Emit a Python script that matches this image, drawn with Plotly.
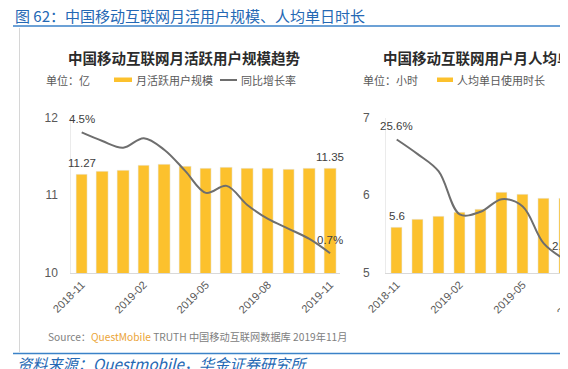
import plotly.graph_objects as go

# ---------------- data ----------------
months_mau = ["2018-11", "2018-12", "2019-01", "2019-02", "2019-03", "2019-04", "2019-05",
              "2019-06", "2019-07", "2019-08", "2019-09", "2019-10", "2019-11"]
mau = [11.27, 11.31, 11.32, 11.38, 11.39, 11.37, 11.34, 11.36, 11.34, 11.34, 11.33, 11.34, 11.35]
mau_growth = [4.50, 4.23, 4.02, 4.32, 3.95, 3.29, 2.60, 2.82, 2.22, 1.78, 1.47, 1.15, 0.70]

months_time = ["2018-11", "2018-12", "2019-01", "2019-02", "2019-03", "2019-04", "2019-05",
               "2019-06", "2019-07"]
daily_hours = [5.59, 5.69, 5.73, 5.78, 5.82, 6.04, 6.01, 5.96, 5.96]
hours_growth = [25.6, 22.8, 19.5, 11.3, 11.8, 14.2, 12.8, 5.75, 2.7]

tick_labels = ["2018-11", "2019-02", "2019-05", "2019-08", "2019-11"]

# the page body has an 8px margin: figure origin sits at screen (8, 8)
OFF = 8
W, H = 568 - OFF, 369 - OFF
def px(x):
    return (x - OFF) / W
def py(y):
    return 1 - (y - OFF) / H

BAR = "#FCC12D"
LINE = "#6E6E6E"
GRAY = "#595959"
BLUE = "#2468B4"
CJK = "Noto Sans CJK SC"
NUM = "Liberation Sans, Noto Sans CJK SC"

fig = go.Figure()
fig.add_trace(go.Bar(x=months_mau, y=mau, marker_color=BAR, width=0.56,
                     xaxis="x", yaxis="y", showlegend=False))
fig.add_trace(go.Scatter(x=months_mau, y=mau_growth, mode="lines",
                         line=dict(color=LINE, width=2, shape="spline", smoothing=1),
                         xaxis="x", yaxis="y2", showlegend=False))
fig.add_trace(go.Bar(x=months_time, y=daily_hours, marker_color=BAR, width=0.57,
                     xaxis="x2", yaxis="y3", showlegend=False))
fig.add_trace(go.Scatter(x=months_time, y=hours_growth, mode="lines",
                         line=dict(color=LINE, width=2, shape="spline", smoothing=1),
                         xaxis="x2", yaxis="y4", showlegend=False))

ydom = [py(273), py(117.5)]
left_dom = [px(71.35), px(340.45)]
right_dom = [px(386.2), 1.0]
right_range = [-0.5, 8.157]

xcommon = dict(type="category", showline=True, linecolor="#D9D9D9", linewidth=1,
               showgrid=False, zeroline=False, ticks="", tickangle=-45, automargin=False,
               tickfont=dict(family=NUM, size=11, color=GRAY),
               tickmode="array", tickvals=tick_labels, ticktext=tick_labels)
ycommon = dict(showline=True, linecolor="#EBEBEB", linewidth=1, showgrid=False,
               zeroline=False, ticks="", ticklabelstandoff=10, automargin=False,
               tickfont=dict(family=NUM, size=12, color=GRAY), domain=ydom)

fig.update_layout(
    width=W, height=H, autosize=False,
    margin=dict(l=0, r=0, t=0, b=0, pad=0, autoexpand=False),
    paper_bgcolor="white", plot_bgcolor="rgba(0,0,0,0)",
    bargap=0,
    xaxis=dict(xcommon, domain=left_dom, range=[-0.5, 12.5], anchor="y"),
    yaxis=dict(ycommon, range=[10, 12], tickvals=[10, 11, 12], anchor="x"),
    yaxis2=dict(range=[0.08, 4.97], overlaying="y", visible=False, domain=ydom, anchor="x"),
    xaxis2=dict(xcommon, domain=right_dom, range=right_range, anchor="y3"),
    yaxis3=dict(ycommon, range=[5, 7], tickvals=[5, 6, 7], anchor="x2",
                ticklabelstandoff=13),
    yaxis4=dict(range=[0.1, 29.8], overlaying="y3", visible=False, domain=ydom, anchor="x2"),
)

ann = []
lab_font = dict(family=NUM, size=11.5, color="#404040")
# value labels
ann.append(dict(x=months_mau[0], y=mau[0], xref="x", yref="y", text=f"{mau[0]:.2f}",
                showarrow=False, yshift=11, font=lab_font))
ann.append(dict(x=months_mau[-1], y=mau[-1], xref="x", yref="y", text=f"{mau[-1]:.2f}",
                showarrow=False, yshift=11, font=lab_font))
ann.append(dict(x=months_mau[0], y=mau_growth[0], xref="x", yref="y2",
                text=f"{mau_growth[0]:.1f}%", showarrow=False, yshift=13, font=lab_font))
ann.append(dict(x=months_mau[-1], y=mau_growth[-1], xref="x", yref="y2",
                text=f"{mau_growth[-1]:.1f}%", showarrow=False, yshift=13, font=lab_font))
ann.append(dict(x=months_time[0], y=daily_hours[0], xref="x2", yref="y3",
                text=f"{daily_hours[0]:.1f}", showarrow=False, yshift=11, font=lab_font))
ann.append(dict(x=months_time[0], y=hours_growth[0], xref="x2", yref="y4",
                text=f"{hours_growth[0]:.1f}%", showarrow=False, yshift=13, font=lab_font))
ann.append(dict(x=months_time[-1], y=hours_growth[-1], xref="x2", yref="y4",
                text=f"{hours_growth[-1]:.1f}%", showarrow=False, yshift=13, font=lab_font))

# partially visible tick label beyond right edge (index 9 = 2019-08)
r0, r1 = right_range
tick_px = 386.2 + (9 - r0) / (r1 - r0) * (568 - 386.2)
ann.append(dict(x=px(tick_px - 13), y=py(300), xref="paper", yref="paper",
                text=tick_labels[3], textangle=-45, showarrow=False,
                xanchor="center", yanchor="middle",
                font=dict(family=NUM, size=11, color=GRAY)))

# header
ann.append(dict(x=px(13), y=py(15), xref="paper", yref="paper",
                text="图 62：中国移动互联网月活用户规模、人均单日时长",
                showarrow=False, xanchor="left", yanchor="middle",
                font=dict(family=CJK, size=15, color=BLUE)))
# chart titles
ann.append(dict(x=px(66), y=py(57), xref="paper", yref="paper",
                text="中国移动互联网月活跃用户规模趋势", showarrow=False,
                xanchor="left", yanchor="middle",
                font=dict(family=CJK, size=14.5, color="#2B2B2B", weight=600)))
ann.append(dict(x=px(381), y=py(57), xref="paper", yref="paper",
                text="中国移动互联网用户月人均单日时长趋势", showarrow=False,
                xanchor="left", yanchor="middle",
                font=dict(family=CJK, size=14.5, color="#2B2B2B", weight=600)))
# legends
leg_font = dict(family=CJK, size=11, color=GRAY)
for x, t in [(44, "单位：亿"), (134, "月活跃用户规模"), (239, "同比增长率"),
             (361, "单位：小时"), (455, "人均单日使用时长")]:
    ann.append(dict(x=px(x), y=py(80), xref="paper", yref="paper", text=t,
                    showarrow=False, xanchor="left", yanchor="middle", font=leg_font))
# source
ann.append(dict(x=px(46), y=py(336), xref="paper", yref="paper",
                text=("<span style='color:#808080'>Source：</span>"
                      "<span style='color:#EBA436'>QuestMobile</span>"
                      "<span style='color:#808080'> TRUTH 中国移动互联网数据库 2019年11月</span>"),
                showarrow=False, xanchor="left", yanchor="middle",
                font=dict(family=CJK, size=10.2)))
# footer
ann.append(dict(x=px(15), y=py(363), xref="paper", yref="paper",
                text="资料来源：Questmobile，华金证券研究所",
                showarrow=False, xanchor="left", yanchor="middle",
                font=dict(family=CJK, size=15.2, color=BLUE, style="italic")))

shapes = [
    dict(type="line", xref="paper", yref="paper", x0=px(13), x1=1.0, y0=py(26), y1=py(26),
         line=dict(color="#3B82C8", width=1.5)),
    dict(type="line", xref="paper", yref="paper", x0=px(19.5), x1=px(19.5), y0=py(28), y1=py(352),
         line=dict(color="#D6D6D6", width=1)),
    dict(type="line", xref="paper", yref="paper", x0=px(13), x1=1.0, y0=py(353.5), y1=py(353.5),
         line=dict(color="#3B82C8", width=1.5)),
    dict(type="rect", xref="paper", yref="paper", x0=px(114), x1=px(132), y0=py(82), y1=py(77.5),
         fillcolor=BAR, line=dict(width=0)),
    dict(type="line", xref="paper", yref="paper", x0=px(220), x1=px(237), y0=py(80), y1=py(80),
         line=dict(color=LINE, width=2)),
    dict(type="rect", xref="paper", yref="paper", x0=px(437), x1=px(453), y0=py(82), y1=py(77.5),
         fillcolor=BAR, line=dict(width=0)),
    dict(type="line", xref="paper", yref="paper", x0=px(564), x1=px(580), y0=py(80), y1=py(80),
         line=dict(color=LINE, width=2)),
]

fig.update_layout(annotations=ann, shapes=shapes)
fig.write_html("out.html")
